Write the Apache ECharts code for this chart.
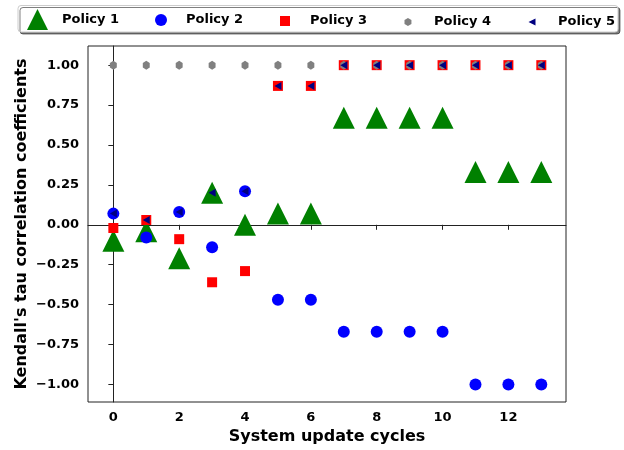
<!DOCTYPE html>
<html>
<head>
<meta charset="utf-8">
<script src="https://cdn.jsdelivr.net/npm/echarts@6/dist/echarts.min.js"></script>
<style>html,body{margin:0;padding:0;background:#fff;}#c{width:624px;height:450px;}</style>
</head>
<body>
<div id="c"></div>
<script>
var cycles = [0,1,2,3,4,5,6,7,8,9,10,11,12,13];
var policy1 = [-0.10,-0.04,-0.21,0.20,0.00,0.07,0.07,0.67,0.67,0.67,0.67,0.33,0.33,0.33];
var policy2 = [0.07,-0.08,0.08,-0.14,0.21,-0.47,-0.47,-0.67,-0.67,-0.67,-0.67,-1.00,-1.00,-1.00];
var policy3 = [-0.02,0.03,-0.09,-0.36,-0.29,0.87,0.87,1.00,1.00,1.00,1.00,1.00,1.00,1.00];
var policy4 = [1,1,1,1,1,1,1,1,1,1,1,1,1,1];
var policy5 = [0.07,0.03,0.08,0.20,0.21,0.87,0.87,1.00,1.00,1.00,1.00,1.00,1.00,1.00];
var xTicks = [0,2,4,6,8,10,12];
var yTicks = [-1.00,-0.75,-0.50,-0.25,0.00,0.25,0.50,0.75,1.00];
var names = ['Policy 1','Policy 2','Policy 3','Policy 4','Policy 5'];

function pts(v){ return cycles.map(function(c,i){ return [c, v[i]]; }); }
var FONT = 'DejaVu Sans';
var HEX = 'path://M0,-1 L0.866,-0.5 L0.866,0.5 L0,1 L-0.866,0.5 L-0.866,-0.5 Z';
var LTRI = 'path://M0,5 L10,0 L10,10 Z';

var specs = [
  {data: policy1, color: '#008000', symbol: 'triangle', size: 22, lsize: [21,21], left: 27, pad: 9},
  {data: policy2, color: '#0000ff', symbol: 'circle', size: 12, lsize: [12,12], left: 155, pad: 14},
  {data: policy3, color: '#ff0000', symbol: 'rect', size: 10, lsize: [10,10], left: 280, pad: 15},
  {data: policy4, color: '#808080', symbol: HEX, size: [8,9], lsize: [7,8], left: 404.5, pad: 17.5},
  {data: policy5, color: '#000080', symbol: LTRI, size: [7,8], lsize: [7,8], left: 528.5, pad: 17.5}
];

var series = specs.map(function(s, i){
  return {
    name: names[i], type: 'scatter', data: pts(s.data),
    symbol: s.symbol, symbolSize: s.size, symbolKeepAspect: true,
    itemStyle: {color: s.color, opacity: 1}, z: 2 + i,
    emphasis: {disabled: true}
  };
});

var legends = specs.map(function(s, i){
  return {
    data: [{name: names[i], icon: s.symbol}],
    left: s.left, top: 19.5 - s.lsize[1]/2,
    padding: 0, itemWidth: s.lsize[0], itemHeight: s.lsize[1],
    selectedMode: false, z: 5,
    textStyle: {fontFamily: FONT, fontWeight: 'bold', fontSize: 13, color: '#000', padding: [0,0,0,s.pad]}
  };
});

var chart = echarts.init(document.getElementById('c'), null, {renderer: 'canvas'});
chart.setOption({
  animation: false,
  backgroundColor: '#fff',
  graphic: [{
    type: 'rect', z: 1, silent: true,
    shape: {x: 18, y: 5.5, width: 600, height: 26.5, r: 3},
    style: {fill: '#fff', stroke: '#cccccc', lineWidth: 1,
            shadowColor: 'rgba(0,0,0,0.5)', shadowOffsetX: 2, shadowOffsetY: 2, shadowBlur: 0}
  }],
  legend: legends,
  grid: {left: 88, right: 58, top: 46, bottom: 48, show: true, borderColor: '#222', borderWidth: 1, backgroundColor: 'transparent'},
  xAxis: {
    type: 'value', min: -0.77, max: 13.75,
    name: 'System update cycles', nameLocation: 'middle', nameGap: 27, nameMoveOverlap: false,
    nameTextStyle: {fontFamily: FONT, fontWeight: 'bold', fontSize: 16, color: '#000'},
    axisLine: {show: true, lineStyle: {color: '#222', width: 1}},
    axisTick: {show: true, length: 5, lineStyle: {color: '#222'}, customValues: xTicks},
    axisLabel: {customValues: xTicks, margin: 9, fontFamily: FONT, fontWeight: 'bold', fontSize: 13, color: '#000'},
    splitLine: {show: false}
  },
  yAxis: {
    type: 'value', min: -1.11, max: 1.12,
    name: "Kendall's tau correlation coefficients", nameLocation: 'middle', nameGap: 58, nameRotate: 90, nameMoveOverlap: false,
    nameTextStyle: {fontFamily: FONT, fontWeight: 'bold', fontSize: 16, color: '#000'},
    axisLine: {show: true, lineStyle: {color: '#222', width: 1}},
    axisTick: {show: true, length: 5, lineStyle: {color: '#222'}, customValues: yTicks},
    axisLabel: {customValues: yTicks, margin: 9, fontFamily: FONT, fontWeight: 'bold', fontSize: 13, color: '#000',
      formatter: function(v){ return (v < 0 ? '\u2212' : '') + Math.abs(v).toFixed(2); }},
    splitLine: {show: false}
  },
  series: series
});
</script>
</body>
</html>
